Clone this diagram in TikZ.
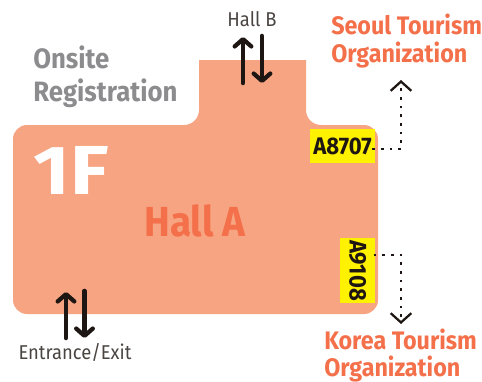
\documentclass[tikz,border=0pt]{standalone}
\usepackage{fontspec}
\setmainfont{Fira Sans}[FakeStretch=0.92]
\newfontfamily\widefloor{Fira Sans}[FakeStretch=1.14]
\usetikzlibrary{arrows.meta}
\definecolor{hall}{HTML}{F7A482}
\definecolor{orangetxt}{HTML}{F4704A}
\definecolor{greytxt}{HTML}{8C8C8E}
\definecolor{inkblack}{HTML}{1E1613}
\definecolor{signyellow}{HTML}{FFF200}
\tikzset{
  x=0.75pt,y=-0.75pt,
  thick arrow/.style={draw=inkblack,line width=3.4pt,line cap=round,-{Straight Barb[length=5.5pt,width=12.5pt,line width=3.2pt,round]}},
  dotted link/.style={draw=inkblack,line width=2pt,dash pattern=on 2pt off 4.5pt,-{Straight Barb[length=7pt,width=15.5pt,line width=1.7pt]}},
  plain label/.style={font=\fontsize{15}{15}\selectfont,text=inkblack!80,inner sep=0pt},
  org label/.style={font=\fontsize{19}{20.5}\selectfont\bfseries,text=orangetxt,inner sep=0pt,align=left,anchor=west},
  sign/.style={fill=signyellow,inner sep=0pt,font=\fontsize{18}{18}\selectfont\bfseries,text=inkblack},
}
\begin{document}
\begin{tikzpicture}
\useasboundingbox (0,0) rectangle (482,382);
\fill[hall] (27,125) -- (184,125) .. controls (192.3,125) and (199,118.3) .. (199,110) -- (199,60) -- (306,60) -- (306,110)
  .. controls (306,118.3) and (312.7,125) .. (321,125) -- (364,125) .. controls (371.7,125) and (378,131.3) .. (378,139)
  -- (378,300) .. controls (378,307.7) and (371.7,314) .. (364,314) -- (27,314) .. controls (19.3,314) and (13,307.7) .. (13,300)
  -- (13,139) .. controls (13,131.3) and (19.3,125) .. (27,125) -- cycle;

\node[font=\fontsize{21}{24.5}\selectfont\bfseries,text=greytxt,align=left,anchor=west,inner sep=0pt] (onsite) at (33,77) {Onsite\\Registration};
\node[font=\widefloor\fontsize{52}{52}\selectfont\bfseries,text=white,inner sep=0pt] (floor) at (71,170) {1F};
\node[font=\fontsize{31.5}{31.5}\selectfont\bfseries,text=orangetxt,inner sep=0pt] (halla) at (195,221) {Hall A};

\node[plain label] (hallb) at (252,19) {Hall B};
\node[plain label] (entrance) at (75,352) {Entrance/Exit};
\node[org label] (seoul) at (331,41) {Seoul Tourism\\Organization};
\node[org label] (korea) at (324,355.5) {Korea Tourism\\Organization};

\node[sign,minimum width=48.75pt,minimum height=25.5pt] (a8707) at (342.5,146) {A8707};
\node[sign,minimum width=26.5pt,minimum height=48.75pt] (a9108box) at (357.7,270.5) {};
\node[sign,rotate=-90] (a9108) at (a9108box) {A9108};

\coordinate (seoulend) at (401,80);
\coordinate (seoulbend) at (401,149);
\coordinate (koreaend) at (401,324);
\coordinate (koreabend) at (401,255);

\draw[thick arrow] (243,83) -- (243,37);
\draw[thick arrow] (262,36) -- (262,83);
\draw[thick arrow] (66,338) -- (66,292);
\draw[thick arrow] (84.5,291) -- (84.5,338);

\draw[dotted link] ([xshift=-2.25pt]a8707.east |- seoulbend) -- (seoulbend) -- (seoulend);
\draw[dotted link] ([xshift=-1.5pt]a9108box.east |- koreabend) -- (koreabend) -- (koreaend);
\end{tikzpicture}
\end{document}
